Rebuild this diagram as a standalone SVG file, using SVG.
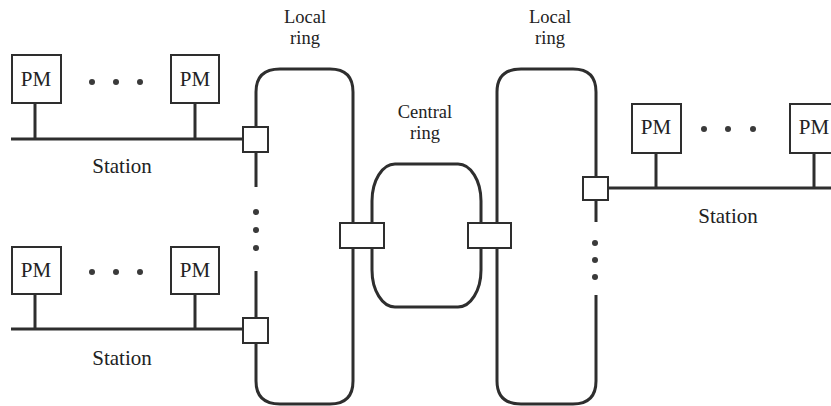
<svg xmlns="http://www.w3.org/2000/svg" width="831" height="406" viewBox="0 0 831 406">
<style>
.ln{fill:none;stroke:#2e2e2e;stroke-width:3;stroke-linecap:butt}
.st{stroke:#2e2e2e;stroke-width:3}
.bx{fill:#fff;stroke:#2e2e2e;stroke-width:2}
.tx{font-family:"Liberation Serif","Times New Roman",serif;font-size:21px;fill:#222;text-anchor:middle}
.lb{font-family:"Liberation Serif","Times New Roman",serif;font-size:18.5px;fill:#222;text-anchor:middle}
.dt{fill:#3a3a3a}
</style>
<rect width="831" height="406" fill="#fff"/>
<g id="connectors">
  <path class="ln" d="M256,187 V92 Q256,69 280,69 H330 Q353,69 353,92 V381 Q353,404 330,404 H280 Q256,404 256,381 V271"/>
  <rect class="ln" x="372" y="164" width="109" height="143" rx="23" ry="37"/>
  <path class="ln" d="M596,295 V381 Q596,404 573,404 H521 Q497,404 497,381 V92 Q497,69 521,69 H573 Q596,69 596,92 V222"/>
  <line class="st" x1="11" y1="139" x2="243" y2="139"/>
  <line class="st" x1="35" y1="103" x2="35" y2="139"/>
  <line class="st" x1="195" y1="103" x2="195" y2="139"/>
  <line class="st" x1="11" y1="329" x2="243" y2="329"/>
  <line class="st" x1="35" y1="294" x2="35" y2="329"/>
  <line class="st" x1="195" y1="294" x2="195" y2="329"/>
  <line class="st" x1="608" y1="188" x2="831" y2="188"/>
  <line class="st" x1="656" y1="153" x2="656" y2="188"/>
  <line class="st" x1="814" y1="153" x2="814" y2="188"/>
</g>
<g id="ring-dots">
  <circle class="dt" cx="256" cy="212" r="3"/>
  <circle class="dt" cx="256" cy="230" r="3"/>
  <circle class="dt" cx="256" cy="248" r="3"/>
  <circle class="dt" cx="595" cy="243" r="3"/>
  <circle class="dt" cx="595" cy="260" r="3"/>
  <circle class="dt" cx="595" cy="277" r="3"/>
</g>
<g id="interface-boxes">
  <rect class="bx" x="243" y="127" width="25" height="25"/>
  <rect class="bx" x="243" y="318" width="25" height="25"/>
  <rect class="bx" x="340" y="223" width="44" height="25"/>
  <rect class="bx" x="468" y="223" width="43" height="25"/>
  <rect class="bx" x="583" y="177" width="25" height="23"/>
</g>
<g id="station-top-left">
  <rect class="bx" x="12" y="55" width="49" height="48"/>
  <text class="tx" x="36" y="86">PM</text>
  <circle class="dt" cx="92" cy="82" r="3"/>
  <circle class="dt" cx="116" cy="82" r="3"/>
  <circle class="dt" cx="140" cy="82" r="3"/>
  <rect class="bx" x="171" y="55" width="48" height="48"/>
  <text class="tx" x="195" y="86">PM</text>
  <text class="tx" x="122" y="173">Station</text>
</g>
<g id="station-bottom-left">
  <rect class="bx" x="12" y="247" width="49" height="47"/>
  <text class="tx" x="36" y="277">PM</text>
  <circle class="dt" cx="92" cy="272" r="3"/>
  <circle class="dt" cx="116" cy="272" r="3"/>
  <circle class="dt" cx="140" cy="272" r="3"/>
  <rect class="bx" x="171" y="247" width="48" height="47"/>
  <text class="tx" x="195" y="277">PM</text>
  <text class="tx" x="122" y="365">Station</text>
</g>
<g id="station-right">
  <rect class="bx" x="632" y="104" width="49" height="49"/>
  <text class="tx" x="656" y="134">PM</text>
  <circle class="dt" cx="704" cy="129" r="3"/>
  <circle class="dt" cx="728" cy="129" r="3"/>
  <circle class="dt" cx="753" cy="129" r="3"/>
  <rect class="bx" x="790" y="104" width="49" height="49"/>
  <text class="tx" x="814" y="134">PM</text>
  <text class="tx" x="728" y="223">Station</text>
</g>
<g id="labels">
  <text class="lb" x="305" y="23">Local</text>
  <text class="lb" x="305" y="44">ring</text>
  <text class="lb" x="425" y="118">Central</text>
  <text class="lb" x="425" y="139">ring</text>
  <text class="lb" x="550" y="23">Local</text>
  <text class="lb" x="550" y="44">ring</text>
</g>
</svg>
